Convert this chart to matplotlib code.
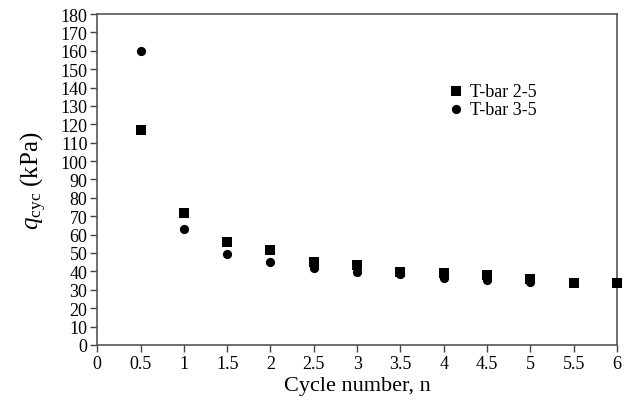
import matplotlib
matplotlib.use('Agg')
import matplotlib.pyplot as plt

# q_cyc (kPa) vs cycle number
cycles_25 = [0.5, 1, 1.5, 2, 2.5, 3, 3.5, 4, 4.5, 5, 5.5, 6]
qcyc_25 = [117, 72, 56, 51.5, 45, 43.5, 39.5, 39, 38, 36, 33.7, 33.5]
cycles_35 = [0.5, 1, 1.5, 2, 2.5, 3, 3.5, 4, 4.5, 5]
qcyc_35 = [160, 63, 49.5, 45, 42, 39.5, 38.5, 36.5, 35.5, 34]

xticks = [0, 0.5, 1, 1.5, 2, 2.5, 3, 3.5, 4, 4.5, 5, 5.5, 6]
xticklabels = ['0', '0.5', '1', '1.5', '2', '2.5', '3', '3.5', '4', '4.5', '5', '5.5', '6']
yticks = list(range(0, 181, 10))

plt.rcParams['font.family'] = ['Liberation Serif', 'DejaVu Serif']
plt.rcParams['mathtext.fontset'] = 'custom'
plt.rcParams['mathtext.it'] = 'Liberation Serif:italic'
plt.rcParams['mathtext.rm'] = 'Liberation Serif'

fig = plt.figure(figsize=(6.31, 4.06), dpi=100)
ax = fig.add_axes([0.154, 0.148, 0.824, 0.815])

ax.scatter(cycles_25, qcyc_25, marker='s', s=42, color='black', linewidths=0,
           label='T-bar 2-5', clip_on=False, zorder=3)
ax.scatter(cycles_35, qcyc_35, marker='o', s=44, color='black', linewidths=0,
           label='T-bar 3-5', clip_on=False, zorder=3)

ax.set_xlim(0, 6)
ax.set_ylim(0, 180)
ax.set_xticks(xticks)
ax.set_xticklabels(xticklabels)
ax.set_yticks(yticks)
ax.tick_params(axis='both', direction='out', length=5, width=1, color='#444444',
               labelsize=13, pad=2)
for sp in ax.spines.values():
    sp.set_color('#555555')
    sp.set_linewidth(1.2)

ax.set_xlabel('Cycle number, n', fontsize=16, labelpad=3)
ax.set_ylabel(r'$q_{\mathrm{cyc}}$ (kPa)', fontsize=18, labelpad=8)

ax.legend(loc='upper left', bbox_to_anchor=(0.655, 0.82), frameon=False,
          fontsize=13, handletextpad=0.3, labelspacing=0.05, borderpad=0,
          handlelength=1.0)

fig.savefig('out.png', dpi=100)
